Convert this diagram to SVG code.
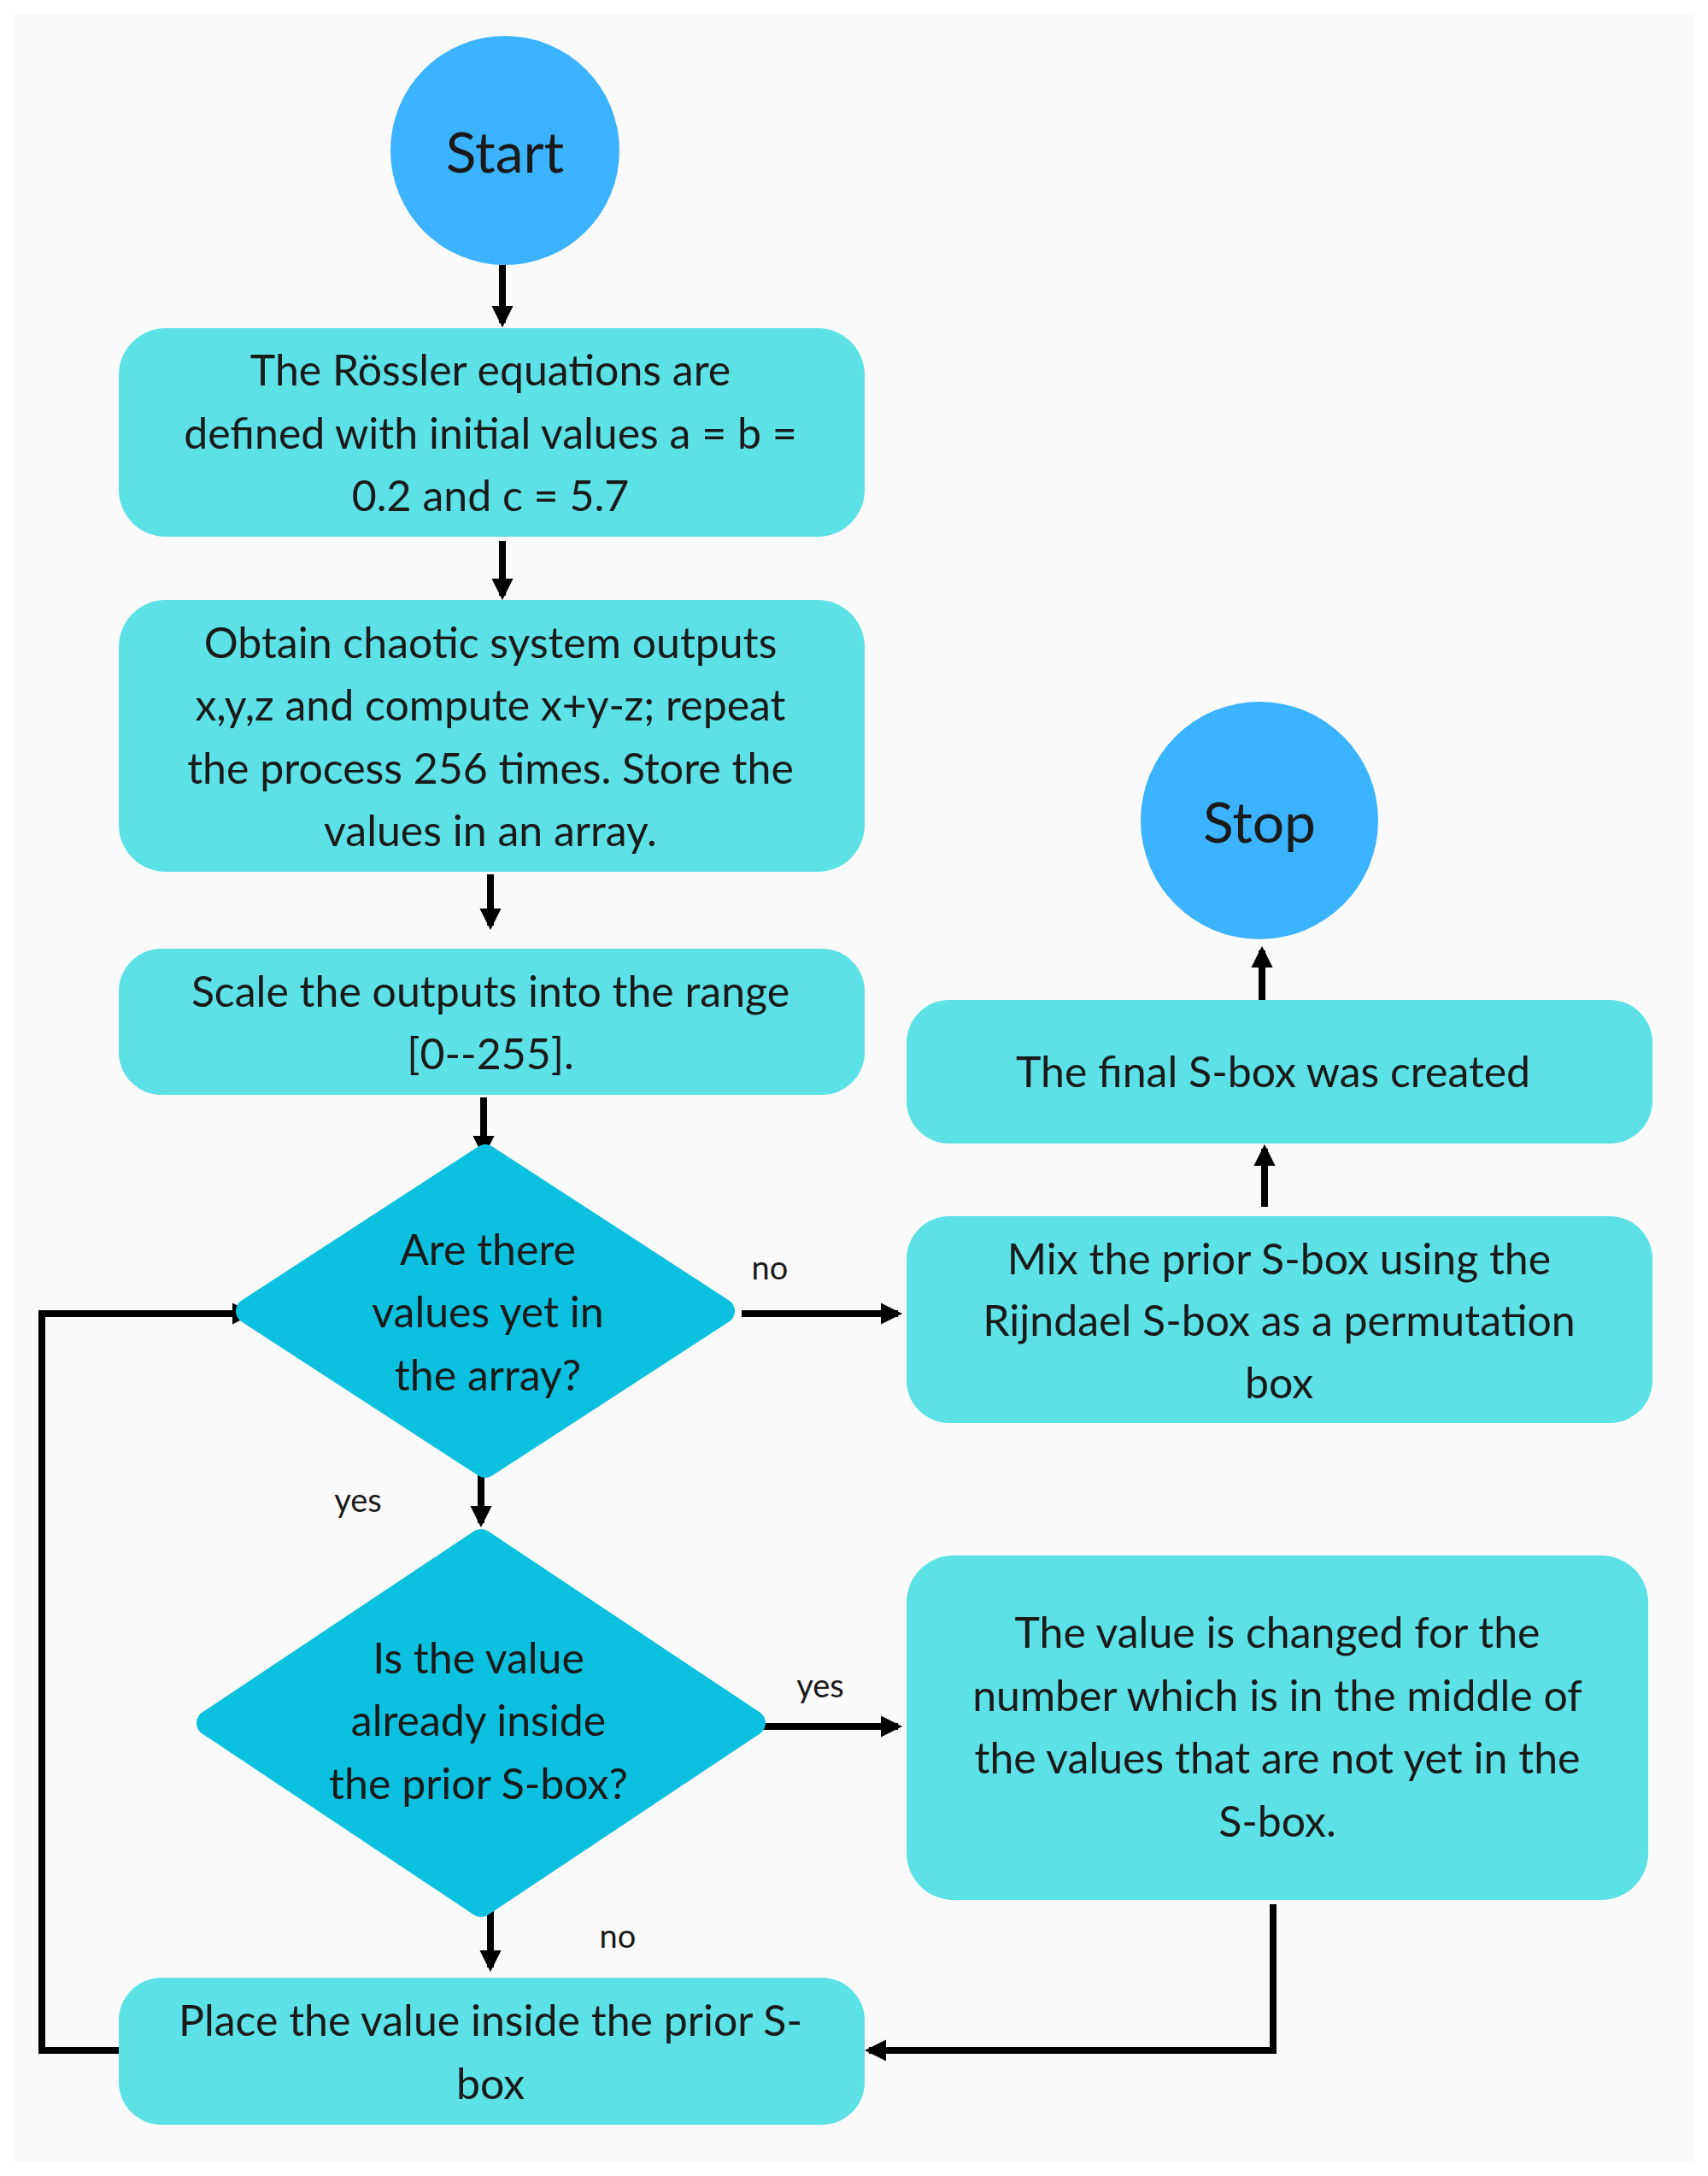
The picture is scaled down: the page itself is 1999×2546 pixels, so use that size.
<svg xmlns="http://www.w3.org/2000/svg" width="1999" height="2546" viewBox="0 0 1999 2546">
<defs>
<style>
.c{fill:#3bb3ff}
.b{fill:#5ce1e6}
.d{fill:#0cc0df}
text{font-family:Lato,"Open Sans",sans-serif;fill:#1a1a1a;text-anchor:middle;dominant-baseline:central}
.t{font-size:50px}
.l{font-size:38px}
.ln{fill:none;stroke:#000;stroke-width:8}
</style>
<marker id="a" viewBox="0 0 10 10" refX="8" refY="5" markerWidth="3.2" markerHeight="3.2" orient="auto" markerUnits="strokeWidth"><path d="M0,0L10,5L0,10z" fill="#000"/></marker>
</defs>
<rect x="0" y="0" width="1999" height="2546" fill="#ffffff"/>
<rect x="16" y="16" width="1967" height="2514" fill="#fafafa"/>
<g id="connectors" class="ln" marker-end="url(#a)">
<path d="M588,310V378"/>
<path d="M588,633V697"/>
<path d="M574,1023V1083"/>
<path d="M566,1284V1349"/>
<path d="M563,1717V1782"/>
<path d="M574,2236V2302"/>
<path d="M868,1537H1051"/>
<path d="M868,2020H1051"/>
<path d="M1490,2228V2399H1017"/>
<path d="M139,2399H49V1537H292"/>
<path d="M1480,1412V1344"/>
<path d="M1477,1172V1112"/>
</g>
<g id="start"><circle class="c" cx="591" cy="176" r="134"/><text x="591" y="176" style="font-size:66px">Start</text></g>
<g id="n1"><rect class="b" x="139" y="384" width="873" height="244" rx="55"/>
<text class="t" x="574"><tspan x="574" y="432">The Rössler equations are</tspan><tspan x="574" y="506">defined with initial values a = b =</tspan><tspan x="574" y="579">0.2 and c = 5.7</tspan></text></g>
<g id="n2"><rect class="b" x="139" y="702" width="873" height="318" rx="55"/>
<text class="t"><tspan x="574" y="751">Obtain chaotic system outputs</tspan><tspan x="574" y="824">x,y,z and compute x+y-z; repeat</tspan><tspan x="574" y="898">the process 256 times. Store the</tspan><tspan x="574" y="971">values in an array.</tspan></text></g>
<g id="n3"><rect class="b" x="139" y="1110" width="873" height="171" rx="50"/>
<text class="t"><tspan x="574" y="1159">Scale the outputs into the range</tspan><tspan x="574" y="1232">[0--255].</tspan></text></g>
<g id="d1"><path class="d" d="M568,1354L845,1534L568,1714L291,1534Z" stroke="#0cc0df" stroke-width="30" stroke-linejoin="round"/>
<text class="t"><tspan x="571" y="1461">Are there</tspan><tspan x="571" y="1534">values yet in</tspan><tspan x="571" y="1608">the array?</tspan></text></g>
<g id="d2"><path class="d" d="M563,1804L881,2016L563,2228L245,2016Z" stroke="#0cc0df" stroke-width="30" stroke-linejoin="round"/>
<text class="t"><tspan x="560" y="1939">Is the value</tspan><tspan x="560" y="2012">already inside</tspan><tspan x="560" y="2086">the prior S-box?</tspan></text></g>
<g id="n4"><rect class="b" x="139" y="2314" width="873" height="172" rx="50"/>
<text class="t"><tspan x="574" y="2363">Place the value inside the prior S-</tspan><tspan x="574" y="2437">box</tspan></text></g>
<g id="stop"><circle class="c" cx="1474" cy="960" r="139"/><text x="1474" y="960" style="font-size:66px">Stop</text></g>
<g id="n5"><rect class="b" x="1061" y="1170" width="873" height="168" rx="50"/><text class="t" x="1490" y="1253">The final S-box was created</text></g>
<g id="n6"><rect class="b" x="1061" y="1423" width="873" height="242" rx="50"/>
<text class="t"><tspan x="1497" y="1472">Mix the prior S-box using the</tspan><tspan x="1497" y="1544">Rijndael S-box as a permutation</tspan><tspan x="1497" y="1617">box</tspan></text></g>
<g id="n7"><rect class="b" x="1061" y="1820" width="868" height="403" rx="55"/>
<text class="t"><tspan x="1495" y="1909">The value is changed for the</tspan><tspan x="1495" y="1983">number which is in the middle of</tspan><tspan x="1495" y="2056">the values that are not yet in the</tspan><tspan x="1495" y="2130">S-box.</tspan></text></g>
<g id="labels" class="l">
<text x="901" y="1482">no</text><text x="419" y="1754">yes</text><text x="960" y="1971">yes</text><text x="723" y="2264">no</text>
</g>
</svg>
